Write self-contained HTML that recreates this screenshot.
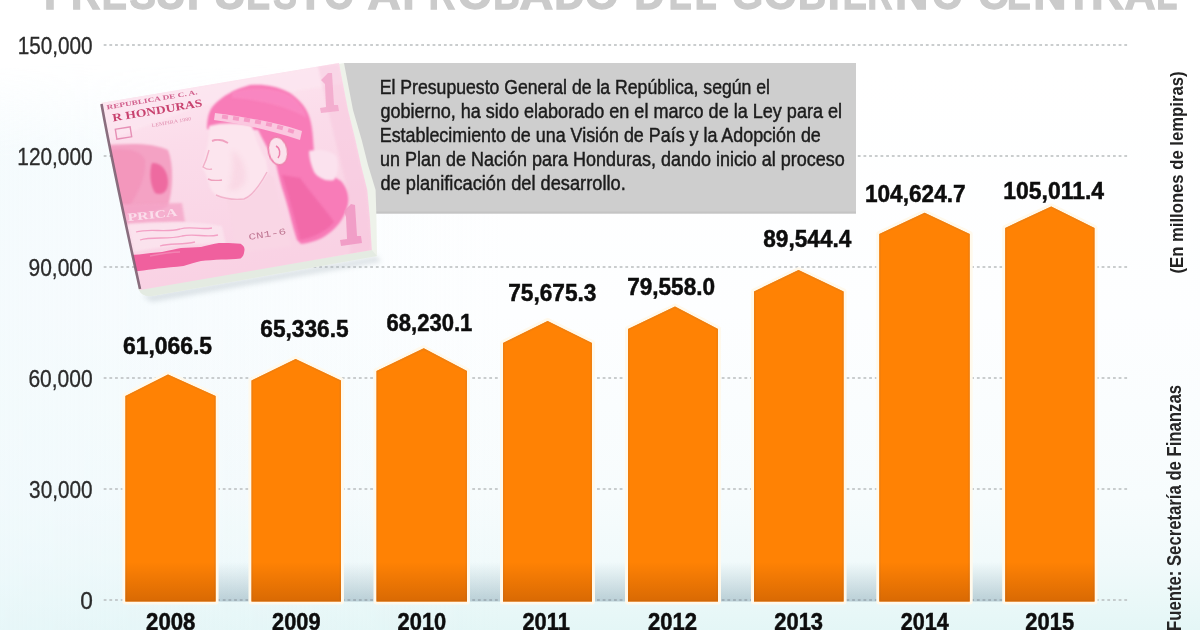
<!DOCTYPE html>
<html><head><meta charset="utf-8">
<style>
html,body{margin:0;padding:0;width:1200px;height:630px;overflow:hidden;background:#fff;}
svg{display:block;filter:blur(0.4px);}
</style></head><body>
<svg width="1200" height="630" viewBox="0 0 1200 630" font-family='"Liberation Sans", sans-serif'>
<defs>
<linearGradient id="bg" x1="0" y1="0" x2="0" y2="630" gradientUnits="userSpaceOnUse">
 <stop offset="0" stop-color="#ffffff"/>
 <stop offset="0.12" stop-color="#ffffff"/>
 <stop offset="0.5" stop-color="#fdfeff"/>
 <stop offset="0.79" stop-color="#f7fcfd"/>
 <stop offset="0.89" stop-color="#f1fafb"/>
 <stop offset="0.952" stop-color="#eaf8f8"/>
 <stop offset="1" stop-color="#e4f6f6"/>
</linearGradient>
<linearGradient id="bgl" x1="0" y1="0" x2="500" y2="0" gradientUnits="userSpaceOnUse">
 <stop offset="0" stop-color="#eaf7fb" stop-opacity="0.45"/>
 <stop offset="1" stop-color="#eaf7fb" stop-opacity="0"/>
</linearGradient>
<linearGradient id="bglv" x1="0" y1="0" x2="0" y2="630" gradientUnits="userSpaceOnUse">
 <stop offset="0.1" stop-color="#fff" stop-opacity="0"/>
 <stop offset="0.25" stop-color="#fff" stop-opacity="1"/>
</linearGradient>
<mask id="bglm"><rect width="1200" height="630" fill="url(#bglv)"/></mask>
<linearGradient id="shade" x1="0" y1="562" x2="0" y2="601.5" gradientUnits="userSpaceOnUse">
 <stop offset="0" stop-color="#4a7088" stop-opacity="0"/>
 <stop offset="1" stop-color="#4a7088" stop-opacity="0.3"/>
</linearGradient>
<linearGradient id="bshade" x1="0" y1="562" x2="0" y2="601.5" gradientUnits="userSpaceOnUse">
 <stop offset="0" stop-color="#803000" stop-opacity="0"/>
 <stop offset="1" stop-color="#803000" stop-opacity="0.3"/>
</linearGradient>
<filter id="tblur"><feGaussianBlur stdDeviation="0.7"/></filter>
</defs>
<rect width="1200" height="630" fill="url(#bg)"/>
<rect width="1200" height="630" fill="url(#bgl)" mask="url(#bglm)"/>
<g font-size="43" font-weight="bold" fill="#cbcbcb" stroke="#cbcbcb" stroke-width="1.3" filter="url(#tblur)"><text x="44.0" y="8.8">P</text><text transform="translate(70.94,8.8) scale(0.943,1)">R</text><text transform="translate(101.87,8.8) scale(0.879,1)">E</text><text transform="translate(129.5,8.8) scale(0.92,1)">S</text><text transform="translate(155.46,8.8) scale(0.978,1)">U</text><text x="187.12" y="8.8">P</text><text transform="translate(213.8,8.8) scale(1.037,1)">U</text><text transform="translate(246.25,8.8) scale(0.833,1)">E</text><text transform="translate(273.37,8.8) scale(0.823,1)">S</text><text x="297.18" y="8.8">T</text><text transform="translate(324.3,8.8) scale(0.896,1)">O</text><text transform="translate(367.45,8.8) scale(1.068,1)">A</text><text x="402.45" y="8.8">P</text><text transform="translate(428.81,8.8) scale(0.848,1)">R</text><text transform="translate(457.97,8.8) scale(1.02,1)">O</text><text transform="translate(493.19,8.8) scale(0.855,1)">B</text><text transform="translate(519.43,8.8) scale(1.085,1)">A</text><text transform="translate(554.13,8.8) scale(0.981,1)">D</text><text transform="translate(585.02,8.8) scale(1.003,1)">O</text><text transform="translate(634.14,8.8) scale(0.977,1)">D</text><text transform="translate(668.64,8.8) scale(0.804,1)">E</text><text transform="translate(694.76,8.8) scale(0.832,1)">L</text><text transform="translate(731.95,8.8) scale(0.932,1)">G</text><text transform="translate(764.06,8.8) scale(0.985,1)">O</text><text transform="translate(798.05,8.8) scale(0.903,1)">B</text><text x="827.75" y="8.8">I</text><text transform="translate(842.63,8.8) scale(0.841,1)">E</text><text transform="translate(867.5,8.8) scale(0.8,1)">R</text><text transform="translate(895.05,8.8) scale(1.077,1)">N</text><text transform="translate(931.98,8.8) scale(0.923,1)">O</text><text transform="translate(978.13,8.8) scale(0.961,1)">C</text><text transform="translate(1006.97,8.8) scale(0.829,1)">E</text><text transform="translate(1033.16,8.8) scale(1.073,1)">N</text><text x="1065.68" y="8.8">T</text><text transform="translate(1091.01,8.8) scale(1.057,1)">R</text><text transform="translate(1124.53,8.8) scale(0.998,1)">A</text><text transform="translate(1156.25,8.8) scale(0.8,1)">L</text></g>
<line x1="103.7" y1="45" x2="1129" y2="45" stroke="#b9bdbf" stroke-width="1.4" stroke-dasharray="2.8 2.87"/>
<line x1="103.7" y1="156" x2="1129" y2="156" stroke="#b9bdbf" stroke-width="1.4" stroke-dasharray="2.8 2.87"/>
<line x1="103.7" y1="267" x2="1129" y2="267" stroke="#b9bdbf" stroke-width="1.4" stroke-dasharray="2.8 2.87"/>
<line x1="103.7" y1="378" x2="1129" y2="378" stroke="#b9bdbf" stroke-width="1.4" stroke-dasharray="2.8 2.87"/>
<line x1="103.7" y1="489" x2="1129" y2="489" stroke="#b9bdbf" stroke-width="1.4" stroke-dasharray="2.8 2.87"/>
<line x1="103.7" y1="600" x2="1129" y2="600" stroke="#b9bdbf" stroke-width="1.4" stroke-dasharray="2.8 2.87"/>
<text x="17.66" y="54.2" font-size="23.5" fill="#2b2b2b" stroke="#2b2b2b" stroke-width="0.3" textLength="74.99" lengthAdjust="spacingAndGlyphs">150,000</text>
<text x="17.31" y="165.2" font-size="23.5" fill="#2b2b2b" stroke="#2b2b2b" stroke-width="0.3" textLength="75.25" lengthAdjust="spacingAndGlyphs">120,000</text>
<text x="28.52" y="276.2" font-size="23.5" fill="#2b2b2b" stroke="#2b2b2b" stroke-width="0.3" textLength="64.07" lengthAdjust="spacingAndGlyphs">90,000</text>
<text x="28.43" y="387.2" font-size="23.5" fill="#2b2b2b" stroke="#2b2b2b" stroke-width="0.3" textLength="64.26" lengthAdjust="spacingAndGlyphs">60,000</text>
<text x="29.11" y="498.2" font-size="23.5" fill="#2b2b2b" stroke="#2b2b2b" stroke-width="0.3" textLength="63.47" lengthAdjust="spacingAndGlyphs">30,000</text>
<text x="80.13" y="609.2" font-size="23.5" fill="#2b2b2b" stroke="#2b2b2b" stroke-width="0.3" textLength="12.61" lengthAdjust="spacingAndGlyphs">0</text>
<rect x="125" y="562" width="970" height="39.5" fill="url(#shade)"/>
<clipPath id="bc0"><polygon points="125.4,601.5 125.4,396.0 168.0,374.5 215.6,396.0 215.6,601.5"/></clipPath>
<polygon points="125.4,601.5 125.4,396.0 168.0,374.5 215.6,396.0 215.6,601.5" fill="#ff8204" stroke="#fff9ec" stroke-width="6" paint-order="stroke" stroke-linejoin="round"/>
<polygon points="125.4,601.5 125.4,396.0 168.0,374.5 215.6,396.0 215.6,601.5" fill="none" stroke="#ec7e12" stroke-width="3" clip-path="url(#bc0)" opacity="0.8"/>
<rect x="125.4" y="562" width="90.19999999999999" height="39.5" fill="url(#bshade)"/>
<clipPath id="bc1"><polygon points="251.5,601.5 251.5,380.5 295.6,359.0 341.0,380.5 341.0,601.5"/></clipPath>
<polygon points="251.5,601.5 251.5,380.5 295.6,359.0 341.0,380.5 341.0,601.5" fill="#ff8204" stroke="#fff9ec" stroke-width="6" paint-order="stroke" stroke-linejoin="round"/>
<polygon points="251.5,601.5 251.5,380.5 295.6,359.0 341.0,380.5 341.0,601.5" fill="none" stroke="#ec7e12" stroke-width="3" clip-path="url(#bc1)" opacity="0.8"/>
<rect x="251.5" y="562" width="89.5" height="39.5" fill="url(#bshade)"/>
<clipPath id="bc2"><polygon points="376.5,601.5 376.5,371.0 423.75,348.3 467.0,371.0 467.0,601.5"/></clipPath>
<polygon points="376.5,601.5 376.5,371.0 423.75,348.3 467.0,371.0 467.0,601.5" fill="#ff8204" stroke="#fff9ec" stroke-width="6" paint-order="stroke" stroke-linejoin="round"/>
<polygon points="376.5,601.5 376.5,371.0 423.75,348.3 467.0,371.0 467.0,601.5" fill="none" stroke="#ec7e12" stroke-width="3" clip-path="url(#bc2)" opacity="0.8"/>
<rect x="376.5" y="562" width="90.5" height="39.5" fill="url(#bshade)"/>
<clipPath id="bc3"><polygon points="503.0,601.5 503.0,343.0 547.6,321.0 592.0,343.0 592.0,601.5"/></clipPath>
<polygon points="503.0,601.5 503.0,343.0 547.6,321.0 592.0,343.0 592.0,601.5" fill="#ff8204" stroke="#fff9ec" stroke-width="6" paint-order="stroke" stroke-linejoin="round"/>
<polygon points="503.0,601.5 503.0,343.0 547.6,321.0 592.0,343.0 592.0,601.5" fill="none" stroke="#ec7e12" stroke-width="3" clip-path="url(#bc3)" opacity="0.8"/>
<rect x="503.0" y="562" width="89.0" height="39.5" fill="url(#bshade)"/>
<clipPath id="bc4"><polygon points="628.0,601.5 628.0,329.0 675.0,306.6 718.0,329.0 718.0,601.5"/></clipPath>
<polygon points="628.0,601.5 628.0,329.0 675.0,306.6 718.0,329.0 718.0,601.5" fill="#ff8204" stroke="#fff9ec" stroke-width="6" paint-order="stroke" stroke-linejoin="round"/>
<polygon points="628.0,601.5 628.0,329.0 675.0,306.6 718.0,329.0 718.0,601.5" fill="none" stroke="#ec7e12" stroke-width="3" clip-path="url(#bc4)" opacity="0.8"/>
<rect x="628.0" y="562" width="90.0" height="39.5" fill="url(#bshade)"/>
<clipPath id="bc5"><polygon points="754.0,601.5 754.0,291.5 798.5,270.1 843.6,291.5 843.6,601.5"/></clipPath>
<polygon points="754.0,601.5 754.0,291.5 798.5,270.1 843.6,291.5 843.6,601.5" fill="#ff8204" stroke="#fff9ec" stroke-width="6" paint-order="stroke" stroke-linejoin="round"/>
<polygon points="754.0,601.5 754.0,291.5 798.5,270.1 843.6,291.5 843.6,601.5" fill="none" stroke="#ec7e12" stroke-width="3" clip-path="url(#bc5)" opacity="0.8"/>
<rect x="754.0" y="562" width="89.60000000000002" height="39.5" fill="url(#bshade)"/>
<clipPath id="bc6"><polygon points="879.3,601.5 879.3,234.0 924.6,212.7 969.7,234.0 969.7,601.5"/></clipPath>
<polygon points="879.3,601.5 879.3,234.0 924.6,212.7 969.7,234.0 969.7,601.5" fill="#ff8204" stroke="#fff9ec" stroke-width="6" paint-order="stroke" stroke-linejoin="round"/>
<polygon points="879.3,601.5 879.3,234.0 924.6,212.7 969.7,234.0 969.7,601.5" fill="none" stroke="#ec7e12" stroke-width="3" clip-path="url(#bc6)" opacity="0.8"/>
<rect x="879.3" y="562" width="90.40000000000009" height="39.5" fill="url(#bshade)"/>
<clipPath id="bc7"><polygon points="1005.2,601.5 1005.2,228.0 1051.2,206.4 1094.5,228.0 1094.5,601.5"/></clipPath>
<polygon points="1005.2,601.5 1005.2,228.0 1051.2,206.4 1094.5,228.0 1094.5,601.5" fill="#ff8204" stroke="#fff9ec" stroke-width="6" paint-order="stroke" stroke-linejoin="round"/>
<polygon points="1005.2,601.5 1005.2,228.0 1051.2,206.4 1094.5,228.0 1094.5,601.5" fill="none" stroke="#ec7e12" stroke-width="3" clip-path="url(#bc7)" opacity="0.8"/>
<rect x="1005.2" y="562" width="89.29999999999995" height="39.5" fill="url(#bshade)"/>
<text x="122.96" y="353.79999999999995" font-size="24.6" font-weight="bold" fill="#0d0d0d" stroke="#0d0d0d" stroke-width="0.5" textLength="89.15" lengthAdjust="spacingAndGlyphs">61,066.5</text>
<text x="260.27" y="336.5" font-size="24.6" font-weight="bold" fill="#0d0d0d" stroke="#0d0d0d" stroke-width="0.5" textLength="88.34" lengthAdjust="spacingAndGlyphs">65,336.5</text>
<text x="386.59" y="330.7" font-size="24.6" font-weight="bold" fill="#0d0d0d" stroke="#0d0d0d" stroke-width="0.5" textLength="85.79" lengthAdjust="spacingAndGlyphs">68,230.1</text>
<text x="508.18" y="300.7" font-size="24.6" font-weight="bold" fill="#0d0d0d" stroke="#0d0d0d" stroke-width="0.5" textLength="88.21" lengthAdjust="spacingAndGlyphs">75,675.3</text>
<text x="627.18" y="295.15" font-size="24.6" font-weight="bold" fill="#0d0d0d" stroke="#0d0d0d" stroke-width="0.5" textLength="87.9" lengthAdjust="spacingAndGlyphs">79,558.0</text>
<text x="763.26" y="247.3" font-size="24.6" font-weight="bold" fill="#0d0d0d" stroke="#0d0d0d" stroke-width="0.5" textLength="88.09" lengthAdjust="spacingAndGlyphs">89,544.4</text>
<text x="864.92" y="202.3" font-size="24.6" font-weight="bold" fill="#0d0d0d" stroke="#0d0d0d" stroke-width="0.5" textLength="100.74" lengthAdjust="spacingAndGlyphs">104,624.7</text>
<text x="1003.3" y="199.20000000000002" font-size="24.6" font-weight="bold" fill="#0d0d0d" stroke="#0d0d0d" stroke-width="0.5" textLength="100.77" lengthAdjust="spacingAndGlyphs">105,011.4</text>
<text x="146.08" y="629.72" font-size="24.6" font-weight="bold" fill="#0d0d0d" stroke="#0d0d0d" stroke-width="0.5" textLength="49.37" lengthAdjust="spacingAndGlyphs">2008</text>
<text x="272.09" y="629.72" font-size="24.6" font-weight="bold" fill="#0d0d0d" stroke="#0d0d0d" stroke-width="0.5" textLength="48.43" lengthAdjust="spacingAndGlyphs">2009</text>
<text x="397.59" y="629.72" font-size="24.6" font-weight="bold" fill="#0d0d0d" stroke="#0d0d0d" stroke-width="0.5" textLength="48.62" lengthAdjust="spacingAndGlyphs">2010</text>
<text x="522.49" y="629.72" font-size="24.6" font-weight="bold" fill="#0d0d0d" stroke="#0d0d0d" stroke-width="0.5" textLength="47.3" lengthAdjust="spacingAndGlyphs">2011</text>
<text x="647.88" y="629.72" font-size="24.6" font-weight="bold" fill="#0d0d0d" stroke="#0d0d0d" stroke-width="0.5" textLength="49.04" lengthAdjust="spacingAndGlyphs">2012</text>
<text x="774.29" y="629.72" font-size="24.6" font-weight="bold" fill="#0d0d0d" stroke="#0d0d0d" stroke-width="0.5" textLength="48.74" lengthAdjust="spacingAndGlyphs">2013</text>
<text x="900.7" y="629.72" font-size="24.6" font-weight="bold" fill="#0d0d0d" stroke="#0d0d0d" stroke-width="0.5" textLength="48.01" lengthAdjust="spacingAndGlyphs">2014</text>
<text x="1025.34" y="629.72" font-size="24.6" font-weight="bold" fill="#0d0d0d" stroke="#0d0d0d" stroke-width="0.5" textLength="48.76" lengthAdjust="spacingAndGlyphs">2015</text>
<rect x="344" y="63" width="512" height="150.5" fill="#cecece"/><rect x="344" y="211.5" width="512" height="2" fill="#c4c4c4"/>
<text x="379.75" y="94" font-size="19.5" fill="#1c1c1c" stroke="#1c1c1c" stroke-width="0.45" textLength="390.26" lengthAdjust="spacingAndGlyphs">El Presupuesto General de la República, según el</text>
<text x="380.46" y="118" font-size="19.5" fill="#1c1c1c" stroke="#1c1c1c" stroke-width="0.45" textLength="461.61" lengthAdjust="spacingAndGlyphs">gobierno, ha sido elaborado en el marco de la Ley para el</text>
<text x="379.73" y="142" font-size="19.5" fill="#1c1c1c" stroke="#1c1c1c" stroke-width="0.45" textLength="441.06" lengthAdjust="spacingAndGlyphs">Establecimiento de una Visión de País y la Adopción de</text>
<text x="380.0" y="166" font-size="19.5" fill="#1c1c1c" stroke="#1c1c1c" stroke-width="0.45" textLength="464.82" lengthAdjust="spacingAndGlyphs">un Plan de Nación para Honduras, dando inicio al proceso</text>
<text x="380.45" y="190" font-size="19.5" fill="#1c1c1c" stroke="#1c1c1c" stroke-width="0.45" textLength="245.26" lengthAdjust="spacingAndGlyphs">de planificación del desarrollo.</text>
<text transform="translate(1183,273.5) rotate(-90)" font-size="18.6" font-weight="bold" fill="#222" textLength="202" lengthAdjust="spacingAndGlyphs">(En millones de lempiras)</text>
<text transform="translate(1180.5,631) rotate(-90)" font-size="20" font-weight="bold" fill="#262626" textLength="246" lengthAdjust="spacingAndGlyphs">Fuente: Secretaría de Finanzas</text>
<g id="bill">
<defs>
<filter id="blur1" x="-20%" y="-20%" width="140%" height="140%"><feGaussianBlur stdDeviation="1.1"/></filter>
<filter id="blur2" x="-20%" y="-20%" width="140%" height="140%"><feGaussianBlur stdDeviation="2.5"/></filter>
<filter id="blur05" x="-20%" y="-20%" width="140%" height="140%"><feGaussianBlur stdDeviation="0.6"/></filter>
<clipPath id="billclip"><polygon points="101,103 339,63 348,110 355.5,140 361,165 367.3,190 370,220 371.8,250 140,290"/></clipPath>
<linearGradient id="pinkbase" x1="101" y1="103" x2="140" y2="290" gradientUnits="userSpaceOnUse">
 <stop offset="0" stop-color="#fde4ef"/>
 <stop offset="0.3" stop-color="#fbdcea"/>
 <stop offset="1" stop-color="#f9d2e4"/>
</linearGradient>
</defs>
<!-- soft shadow under bill -->
<path d="M142,296 L377,256 L381,262 L152,302 Z" fill="#a8b4bc" opacity="0.35" filter="url(#blur2)"/>
<!-- paper stack -->
<path d="M101,103 L344,63 L353,110 L361.7,140 L368,165 L375.6,190 L376.5,220 L377,256 L152,296 Q142,297 139,290 Z" fill="#eef2ea"/>
<path d="M139,289 L371.8,250 L377,256 L152,296 Q142,297 139,290 Z" fill="#e4ebe2"/>
<!-- pink face -->
<polygon points="101,103 339,63 348,110 355.5,140 361,165 367.3,190 370,220 371.8,250 140,290" fill="url(#pinkbase)"/>
<g clip-path="url(#billclip)">
 <!-- light top wash -->
 <path d="M101,103 L339,63 L342,84 L200,106 L110,140 Z" fill="#fce6f0" opacity="0.8" filter="url(#blur1)"/>
 <!-- left seal area -->
 <path d="M100,146 C130,143 152,143 168,150 C174,165 173,190 168,206 C160,212 140,214 120,216 L100,216 Z" fill="#f4a2c4" filter="url(#blur1)"/>
 <path d="M152,163 C162,162 168,172 168,182 C168,192 162,196 155,193 C150,185 149,172 152,163 Z" fill="#ee6aa0" filter="url(#blur1)"/>
 <path d="M108,150 C128,148 140,150 145,160 C146,175 140,190 130,205 L110,205 Z" fill="#f290b8" opacity="0.6" filter="url(#blur1)"/>
 <!-- PRICA band -->
 <path d="M100,205 L182,203 L185,222 L100,226 Z" fill="#f4a6c8" opacity="0.8" filter="url(#blur1)"/>
 <text transform="translate(128,221) rotate(-6)" font-family="Liberation Serif" font-weight="bold" font-size="11" fill="#fce6f0" opacity="0.85" textLength="50" lengthAdjust="spacingAndGlyphs">PRICA</text>
 <!-- squiggle area -->
 <path d="M128,224 C160,221 200,221 222,226 L226,245 C200,242 165,246 134,252 Z" fill="#fbe4ee" opacity="0.85" filter="url(#blur1)"/>
 <g stroke="#f29ac0" stroke-width="1.3" fill="none" opacity="0.9">
  <path d="M136,232 C150,228 165,233 180,229 C190,226 200,230 212,228"/>
  <path d="M140,240 C152,236 168,240 182,236 C195,233 205,238 218,235"/>
  <path d="M160,246 C170,243 182,245 195,242"/>
 </g>
 <!-- hair -->
 <path d="M207,129 C207,118 209,110 214,105 C222,96 235,89 250,85 C262,84 275,85 290,93 C300,100 307,108 310,119 C313,130 313,140 314,151 C318,165 330,175 341,181 C347,188 350,196 348,204 C346,214 340,224 333,230 C324,238 316,242 301,244 L297,240 C292,225 288,205 282,188 C279,178 277,168 275,160 C268,150 263,140 258,130 Z" fill="#f87cb8" filter="url(#blur1)"/>
 <!-- darker hair streaks -->
 <path d="M282,175 C288,195 294,215 300,240 C312,238 326,232 334,222 C326,210 312,195 300,178 Z" fill="#f066a6" opacity="0.8" filter="url(#blur1)"/>
 <path d="M232,92 C250,86 275,87 292,96 C300,103 305,110 307,118 C290,108 262,100 232,98 Z" fill="#fb8ec6" opacity="0.6" filter="url(#blur1)"/>
 <!-- light oval right of hair -->
 <path d="M309,151 C318,149 330,150 336,156 C339,164 338,175 334,180 C326,182 318,178 314,172 C311,165 309,158 309,151 Z" fill="#fbe2ee" filter="url(#blur1)"/>
 <!-- neck -->
 <path d="M226,198 L244,199 C252,196 260,185 267,172 L274,178 C278,200 284,222 292,246 L236,253 C233,235 230,215 226,198 Z" fill="#f9d6e5" filter="url(#blur1)"/>
 <!-- face -->
 <path d="M209,126 C225,122 240,123 252,126 C256,140 260,150 266,160 L268,172 C260,185 252,196 244,199 C235,200 225,199 216,195 C212,192 210,188 209,184 C209,182 207,180 207,177 C206,174 204,171 202,167 C205,158 207,148 209,136 Z" fill="#fce5ee" filter="url(#blur1)"/>
 <!-- face shading -->
 <path d="M232,150 C240,155 246,165 246,178 C244,188 236,192 228,190 C232,180 234,165 232,150 Z" fill="#f7cadb" opacity="0.45" filter="url(#blur2)"/>
 <path d="M212,141 C217,139 223,140 228,143" stroke="#f0a2c0" stroke-width="2" fill="none" filter="url(#blur05)"/>
 <path d="M209,150 C207,158 205,163 203,167 C206,169 209,170 212,169" stroke="#f2b0c9" stroke-width="1.4" fill="none" filter="url(#blur05)"/>
 <path d="M208,179 C212,181 217,181 222,180" stroke="#eea0bc" stroke-width="1.6" fill="none" filter="url(#blur05)"/>
 <path d="M216,195 C225,199 235,200 244,199 C252,196 260,185 267,172" stroke="#f2b4cc" stroke-width="1.4" fill="none" filter="url(#blur05)"/>
 <!-- bottom swirl -->
 <path d="M130,255 L139,254.6 C147,253.5 155,252.5 162,252 C170,250.5 176,248.5 181,248 C188,247.5 195,247.2 201,247 C208,245.5 213,243.5 219,243 C227,242.8 234,243 240.6,243.8 C243.5,245.5 245,248 244.4,250.8 C244,254.5 243,257 240.6,258.4 C234,259 228,259.2 221.5,259.6 C214,260 207,260.5 201,261 C194,262.5 189,264.5 183.5,266 C175,267 166,267.8 158,268.5 C151,269.5 145,270.3 139,271 L130,272 Z" fill="#f0609e" filter="url(#blur05)"/>
 <path d="M150,256 C160,254 172,252 180,252" stroke="#f48cb8" stroke-width="1.5" fill="none" opacity="0.8"/>
 <!-- headband -->
 <path d="M215,113 C245,117 275,122 302,131 L300,140 C272,131 244,124 214,120 Z" fill="#fbc8e0" filter="url(#blur05)"/>
 <g fill="#f490c0" opacity="0.8" filter="url(#blur05)">
  <rect x="222" y="115" width="6" height="4" transform="rotate(8 225 117)"/>
  <rect x="233" y="116.5" width="6" height="4" transform="rotate(9 236 118.5)"/>
  <rect x="244" y="118" width="6" height="4" transform="rotate(10 247 120)"/>
  <rect x="255" y="120" width="6" height="4" transform="rotate(11 258 122)"/>
  <rect x="266" y="122.5" width="6" height="4" transform="rotate(13 269 124.5)"/>
  <rect x="277" y="125.5" width="6" height="4" transform="rotate(15 280 127.5)"/>
  <rect x="288" y="129" width="6" height="4" transform="rotate(17 291 131)"/>
 </g>
 <!-- ear -->
 <ellipse cx="278" cy="151" rx="9.5" ry="14" transform="rotate(-12 278 151)" fill="#fbe2ec" stroke="#ee80ac" stroke-width="1.6" filter="url(#blur05)"/>
 <path d="M276,146 C280,148 281,154 278,158" stroke="#ee80ac" stroke-width="1.5" fill="none"/>
 <path d="M318,66 L339,63 L355,140 L367,190 L372,252 L350,255 C352,230 350,200 345,180 C338,150 330,120 318,66 Z" fill="#f7c4dc" opacity="0.45" filter="url(#blur1)"/>
 <!-- "1" top right -->
 <path d="M321,80 L328,73 L332,73 L334,105 L338,105 L339,111 L321,113 L320,108 L326,107 L325,84 Z" fill="#f3a8cc" opacity="0.85" filter="url(#blur05)"/>
 <!-- "1" bottom right -->
 <path d="M344,211 L351,204 L355,205 L357,236 L361,236 L362,243 L341,246 L340,240 L347,239 L346,217 Z" fill="#f096c2" opacity="0.85" filter="url(#blur05)"/>
 <!-- honduras text -->
 <text transform="translate(113,121.5) rotate(-9.6)" font-family="Liberation Serif" font-weight="bold" font-size="11" fill="#c8426f" textLength="91" lengthAdjust="spacingAndGlyphs">R HONDURAS</text>
 <text transform="translate(107,109.5) rotate(-9.6)" font-family="Liberation Serif" font-weight="bold" font-size="6.5" fill="#d2628e" textLength="92" lengthAdjust="spacingAndGlyphs">REPUBLICA   DE    C. A.</text>
 <text transform="translate(152,127) rotate(-9.6)" font-family="Liberation Serif" font-size="5" fill="#e090b0" textLength="40" lengthAdjust="spacingAndGlyphs">LEMPIRA        1980</text>
 <rect x="116" y="128" width="15" height="10" fill="none" stroke="#e690b6" stroke-width="1.4" transform="rotate(-9 123.5 133)"/>
 <text transform="translate(249,240) rotate(-9)" font-family="Liberation Mono" font-size="9" fill="#c07894" textLength="38" lengthAdjust="spacingAndGlyphs">CN1-6</text>
</g>
<!-- left fold edge -->
<path d="M101.5,104 C108,140 128,235 140,289" stroke="#7e6072" stroke-width="2.6" fill="none" opacity="0.9" filter="url(#blur05)"/>
</g>
</svg></body></html>
